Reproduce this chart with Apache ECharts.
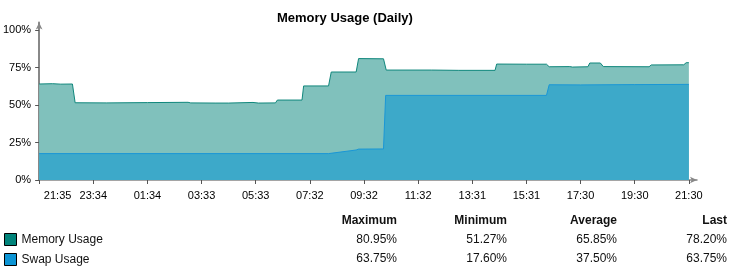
<!DOCTYPE html>
<html>
<head>
<meta charset="utf-8">
<script src="https://cdn.jsdelivr.net/npm/echarts@6/dist/echarts.min.js"></script>
<style>
html,body{margin:0;padding:0;background:#fff;}
#chart{width:733px;height:272px;}
</style>
</head>
<body>
<div id="chart"></div>
<script>
// Hours elapsed since 21:35 (start of the daily window)
const tickHours = [0, 2, 4, 6, 8, 10, 12, 14, 16, 18, 20, 22, 24];
const tickLabels = ['21:35', '23:34', '01:34', '03:33', '05:33', '07:32', '09:32', '11:32', '13:31', '15:31', '17:30', '19:30', '21:30'];
const yTicks = [0, 25, 50, 75, 100];

const memoryTimes  = [0, 0.5, 0.8, 1.23, 1.33, 2.5, 4.0, 5.5, 5.6, 6.5, 7.0, 7.9, 8.1, 8.73, 8.80, 9.71, 9.77, 10.69, 10.79, 11.71, 11.80, 12.72, 12.82, 14.5, 15.5, 16.84, 16.90, 18.0, 18.74, 18.84, 19.6, 19.7, 20.27, 20.34, 20.73, 20.84, 22.53, 22.61, 23.81, 23.90, 24.0];
const memoryValues = [64.0, 64.2, 63.9, 64.0, 51.5, 51.4, 51.6, 51.8, 51.4, 51.3, 51.3, 51.7, 51.3, 51.4, 53.3, 53.3, 62.7, 62.7, 72.0, 72.0, 80.95, 80.8, 73.3, 73.3, 73.1, 73.1, 77.3, 77.2, 77.2, 75.5, 75.6, 75.3, 75.5, 78.0, 78.0, 75.6, 75.5, 76.7, 76.8, 78.2, 78.2];

const swapTimes  = [0, 10.69, 11.71, 11.80, 12.72, 12.80, 18.74, 18.84, 20.0, 22.0, 24.0];
const swapValues = [17.6, 17.6, 20.0, 20.6, 20.7, 56.4, 56.4, 63.5, 63.4, 63.6, 63.75];

const seriesNames = ['Memory Usage', 'Swap Usage'];
const statHeaders = ['Maximum', 'Minimum', 'Average', 'Last'];
const memoryStats = ['80.95%', '51.27%', '65.85%', '78.20%'];
const swapStats   = ['63.75%', '17.60%', '37.50%', '63.75%'];

const FONT = '"Liberation Sans", Arial, sans-serif';
const memData = memoryTimes.map((t, i) => [t, memoryValues[i]]);
const swapData = swapTimes.map((t, i) => [t, swapValues[i]]);

const colRight = [397, 507, 617, 727];
const rowY = [221, 240, 258.5];
const graphics = [];
statHeaders.forEach((h, c) => {
  graphics.push({type: 'text', x: colRight[c], y: rowY[0], style: {text: h, align: 'right', verticalAlign: 'middle', font: 'bold 12px ' + FONT, fill: '#111'}});
  graphics.push({type: 'text', x: colRight[c], y: rowY[1], style: {text: memoryStats[c], align: 'right', verticalAlign: 'middle', font: '12px ' + FONT, fill: '#111'}});
  graphics.push({type: 'text', x: colRight[c], y: rowY[2], style: {text: swapStats[c], align: 'right', verticalAlign: 'middle', font: '12px ' + FONT, fill: '#111'}});
});

const chart = echarts.init(document.getElementById('chart'), null, {renderer: 'canvas'});
chart.setOption({
  animation: false,
  backgroundColor: '#fff',
  title: {
    text: 'Memory Usage (Daily)',
    left: 277, top: 12, padding: 0,
    textStyle: {fontFamily: FONT, fontSize: 13, fontWeight: 'bold', color: '#000'}
  },
  legend: {
    orient: 'vertical', left: 4, top: 233, itemGap: 7, padding: 0,
    itemWidth: 12, itemHeight: 12,
    textStyle: {fontFamily: FONT, fontSize: 12, color: '#111'},
    selectedMode: false,
    data: [
      {name: seriesNames[0], icon: 'rect', itemStyle: {color: '#00837A', borderColor: '#000', borderWidth: 1}},
      {name: seriesNames[1], icon: 'rect', itemStyle: {color: '#0B94D4', borderColor: '#000', borderWidth: 1}}
    ]
  },
  grid: {left: 38, top: 22.5, width: 659, height: 157.5, containLabel: false},
  xAxis: {
    type: 'value', min: 0, max: 24.3,
    axisLine: {show: true, lineStyle: {color: '#888', width: 1.5}, symbol: ['none', 'arrow'], symbolSize: [5, 7]},
    axisTick: {show: true, length: 4, customValues: tickHours, lineStyle: {color: '#555'}},
    splitLine: {show: false},
    axisLabel: {
      customValues: tickHours, margin: 10, hideOverlap: false,
      fontFamily: FONT, fontSize: 11, color: '#000',
      formatter: function (v) {
        const i = Math.round(v / 2);
        const s = tickLabels[i] || '';
        return i === 0 ? '{first|' + s + '}' : s;
      },
      rich: {first: {padding: [0, 0, 0, 37], fontFamily: FONT, fontSize: 11, color: '#000'}}
    }
  },
  yAxis: {
    type: 'value', min: 0, max: 105,
    axisLine: {show: true, lineStyle: {color: '#888', width: 2}, symbol: ['none', 'arrow'], symbolSize: [5, 7]},
    axisTick: {show: true, length: 4, customValues: yTicks, lineStyle: {color: '#555'}},
    splitLine: {show: false},
    axisLabel: {customValues: yTicks, margin: 8, fontFamily: FONT, fontSize: 11, color: '#000', formatter: '{value}%'}
  },
  series: [
    {
      name: seriesNames[0], type: 'line', data: memData, showSymbol: false, symbol: 'none',
      lineStyle: {color: '#10877C', width: 1},
      itemStyle: {color: '#00837A'},
      areaStyle: {color: '#80C1BC', opacity: 1},
      z: 1
    },
    {
      name: seriesNames[1], type: 'line', data: swapData, showSymbol: false, symbol: 'none',
      lineStyle: {color: '#1A97D6', width: 1},
      itemStyle: {color: '#0B94D4'},
      areaStyle: {color: '#3DA9C9', opacity: 1},
      z: 2
    }
  ],
  graphic: graphics
});
</script>
</body>
</html>
